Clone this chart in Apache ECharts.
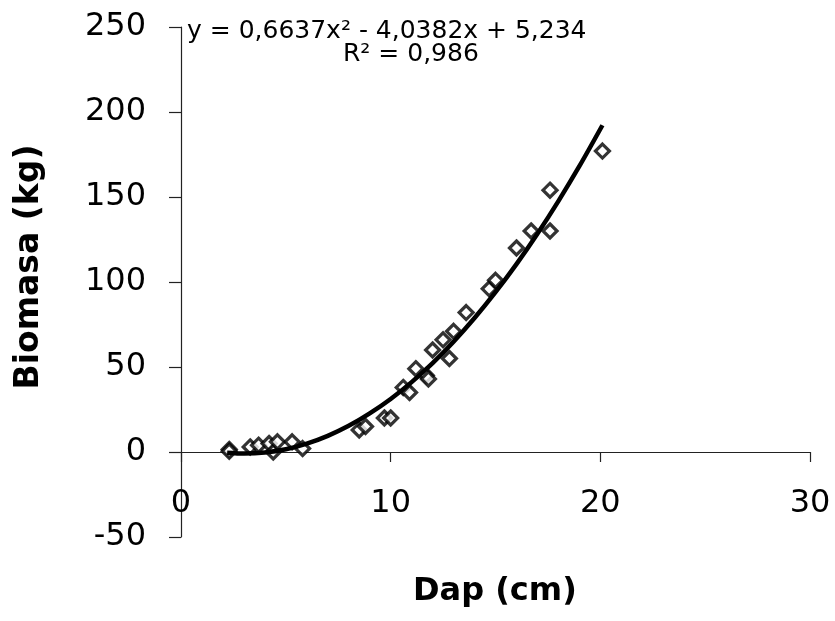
<!DOCTYPE html>
<html>
<head>
<meta charset="utf-8">
<script src="https://cdn.jsdelivr.net/npm/echarts@6/dist/echarts.min.js"></script>
<style>
html,body{margin:0;padding:0;background:#fff;}
#chart{width:835px;height:621px;}
</style>
</head>
<body>
<div id="chart"></div>
<script>
// Observed data (Dap in cm, Biomasa in kg)
var dap = [2.3, 2.3, 3.3, 3.7, 4.2, 4.4, 4.6, 5.3, 5.8, 8.5, 8.8, 9.7, 10.0, 10.6, 10.9, 11.2, 11.7, 11.8, 12.0, 12.5, 12.8, 13.0, 13.6, 14.7, 15.0, 16.0, 16.7, 17.6, 17.6, 20.1];
var biomasa = [1.5, 0.5, 3, 4, 5, 0, 6, 6, 2, 13, 15, 20, 20, 38, 35, 49, 45, 43, 60, 66, 55, 71, 82, 96, 101, 120, 130, 130, 154, 177];

// Trend line
var trendX = [2.2, 3, 4, 5, 6, 7, 8, 9, 10, 11, 12, 13, 14, 15, 16, 17, 18, 19, 20.1];
var trendY = [-0.4, -0.9, -0.3, 1.6, 4.9, 9.5, 15.4, 22.7, 31.2, 41.1, 52.3, 64.9, 78.8, 94.0, 110.5, 128.4, 147.6, 168.1, 192.2];

var xTicks = [0, 10, 20, 30];
var yTicks = [-50, 0, 50, 100, 150, 200, 250];

var eqLine1 = 'y = 0,6637x² - 4,0382x + 5,234';
var eqLine2 = 'R² = 0,986';
var xTitle = 'Dap (cm)';
var yTitle = 'Biomasa (kg)';

var chart = echarts.init(document.getElementById('chart'), null, {renderer: 'canvas'});

var scatterData = dap.map(function (d, i) { return [d, biomasa[i]]; });
var trendData = trendX.map(function (d, i) { return [d, trendY[i]]; });

var option = {
  backgroundColor: '#fff',
  animation: false,
  grid: {left: 181, right: 25, top: 27, bottom: 84, containLabel: false},
  xAxis: {
    type: 'value',
    position: 'bottom',
    offset: -85,
    min: xTicks[0], max: xTicks[xTicks.length - 1], interval: 10,
    axisLine: {onZero: false, lineStyle: {color: '#222', width: 1.2}},
    axisTick: {show: true, inside: false, length: 10, lineStyle: {color: '#222', width: 1.2}},
    axisLabel: {margin: 36, color: '#000', fontSize: 32, fontFamily: 'DejaVu Sans', showMinLabel: true, showMaxLabel: true},
    splitLine: {show: false}
  },
  yAxis: {
    type: 'value',
    min: yTicks[0], max: yTicks[yTicks.length - 1], interval: 50,
    axisLine: {show: true, onZero: false, lineStyle: {color: '#222', width: 1.2}},
    axisTick: {show: true, inside: false, length: 12, lineStyle: {color: '#222', width: 1.2}},
    axisLabel: {margin: 35, color: '#000', fontSize: 32, fontFamily: 'DejaVu Sans'},
    splitLine: {show: false}
  },
  series: [
    {
      type: 'scatter',
      data: scatterData,
      symbol: 'diamond',
      symbolSize: 14,
      itemStyle: {color: '#fff', borderColor: '#000', borderWidth: 3.2},
      z: 2
    },
    {
      type: 'line',
      data: trendData,
      smooth: 0.3,
      showSymbol: false,
      symbol: 'none',
      lineStyle: {color: '#000', width: 4.5},
      z: 3
    }
  ],
  graphic: [
    {
      type: 'text', left: 187, top: 19,
      style: {text: eqLine1, font: '25px "DejaVu Sans"', fill: '#000'}
    },
    {
      type: 'text', left: 343, top: 42,
      style: {text: eqLine2, font: '25px "DejaVu Sans"', fill: '#000'}
    },
    {
      type: 'text', left: 413, top: 576,
      style: {text: xTitle, font: 'bold 32px "DejaVu Sans"', fill: '#000'}
    },
    {
      type: 'text', x: 29, y: 267, rotation: Math.PI / 2,
      style: {text: yTitle, font: 'bold 33px "DejaVu Sans"', fill: '#000', textAlign: 'center', textVerticalAlign: 'middle'}
    }
  ]
};
chart.setOption(option);
</script>
</body>
</html>
